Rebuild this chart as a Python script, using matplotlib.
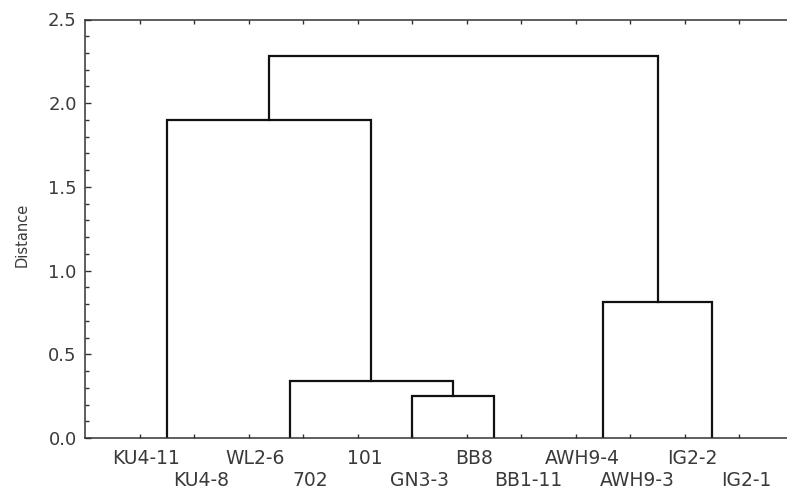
import matplotlib.pyplot as plt
from matplotlib.ticker import MultipleLocator

leaf_labels = ['KU4-11', 'KU4-8', 'WL2-6', '702', '101', 'GN3-3',
               'BB8', 'BB1-11', 'AWH9-4', 'AWH9-3', 'IG2-2', 'IG2-1']

# merges: (left cluster id, right cluster id, distance); new ids start at 12
merge_left = [0, 3, 2, 6, 5, 14, 12, 8, 10, 19, 18]
merge_right = [1, 4, 13, 7, 15, 16, 17, 9, 11, 20, 21]
merge_height = [0.0, 0.0, 0.0, 0.0, 0.25, 0.34, 1.90, 0.0, 0.0, 0.81, 2.28]

TEXT = '#3a3a3a'
LINE = '#111111'


def build_nodes():
    pos = {i: i + 1 for i in range(len(leaf_labels))}
    height = {i: 0.0 for i in range(len(leaf_labels))}
    segments = []
    for k, (a, b, h) in enumerate(zip(merge_left, merge_right, merge_height)):
        new_id = len(leaf_labels) + k
        pos[new_id] = (pos[a] + pos[b]) / 2
        height[new_id] = h
        if h > 0:
            segments.append(([pos[a], pos[a], pos[b], pos[b]],
                             [height[a], h, h, height[b]]))
    return segments


def main():
    fig = plt.figure(figsize=(7.87, 4.92), dpi=100)
    ax = fig.add_axes([85 / 787, 54 / 492, 709 / 787, 418.5 / 492])

    for xs, ys in build_nodes():
        ax.plot(xs, ys, color=LINE, lw=1.6, solid_joinstyle='miter')

    ax.set_xlim(0, 13)
    ax.set_ylim(0, 2.5)
    ax.set_xticks(range(1, len(leaf_labels) + 1))
    ax.set_xticklabels([])
    ax.yaxis.set_major_locator(MultipleLocator(0.5))
    ax.yaxis.set_minor_locator(MultipleLocator(0.1))
    ax.tick_params(axis='x', direction='in', length=3, width=1, color='#333333',
                   top=True, bottom=True)
    ax.tick_params(axis='y', which='major', direction='in', length=4, width=1,
                   color='#333333', labelsize=13, labelcolor=TEXT, pad=6)
    ax.tick_params(axis='y', which='minor', direction='in', length=3, width=1,
                   color='#333333')
    ax.set_yticklabels(['%.1f' % v for v in ax.get_yticks()])
    for s in ax.spines.values():
        s.set_color('#333333')
        s.set_linewidth(1.1)

    for i, name in enumerate(leaf_labels):
        off = -14.5 if i % 2 == 0 else -30.5
        ax.annotate(name, xy=(i + 1, 0), xycoords=('data', 'axes fraction'),
                    xytext=(5, off), textcoords='offset points',
                    ha='center', va='center', fontsize=13.5, color=TEXT)

    fig.text(22 / 787, 1 - 235 / 492, 'Distance', rotation=90,
             ha='center', va='center', fontsize=10.5, color=TEXT)

    fig.savefig('out.png', dpi=100)


if __name__ == '__main__':
    main()
